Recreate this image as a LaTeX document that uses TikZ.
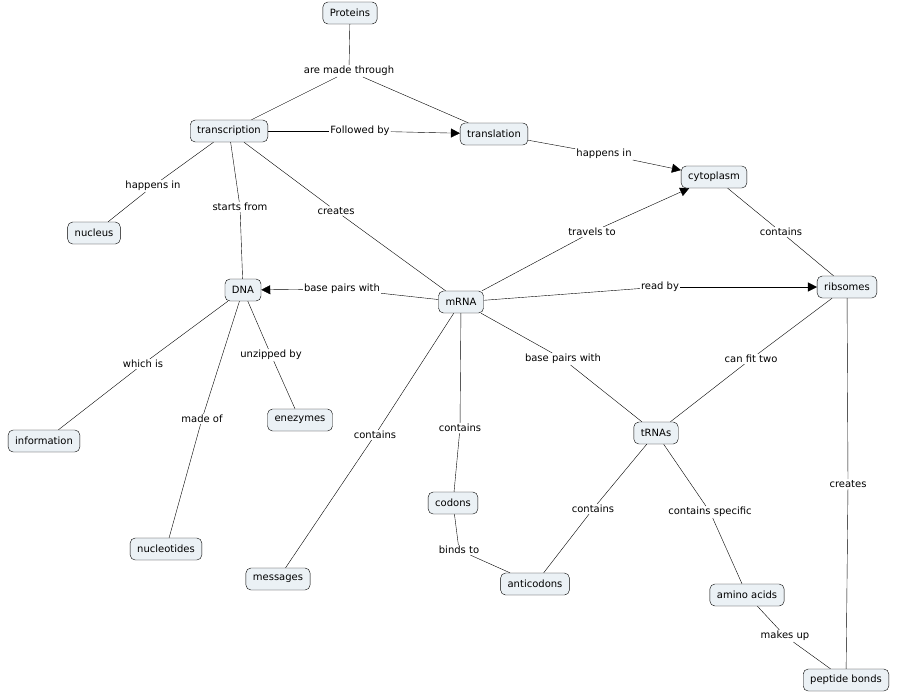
\documentclass[tikz,border=0pt]{standalone}
\usepackage{fontspec}
\setmainfont{DejaVu Sans}
\usetikzlibrary{arrows.meta}
\definecolor{conceptfill}{HTML}{EBF1F5}
\begin{document}
\begin{tikzpicture}[x=1pt,y=-1pt,
  concept/.style={draw,rounded corners=5pt,fill=conceptfill,font=\fontsize{10}{11}\selectfont,
    inner xsep=7pt,inner ysep=4pt,minimum height=22pt},
  link/.style={fill=white,font=\fontsize{10}{11}\selectfont,inner sep=1pt},
  arr/.style={-{Triangle[length=9pt,width=9pt]}}]
  \useasboundingbox (0,0) rectangle (901,697);

  \node[concept] (proteins) at (350,13) {Proteins};
  \node[concept] (transcription) at (229,131) {transcription};
  \node[concept] (translation) at (494,134) {translation};
  \node[concept] (cytoplasm) at (714,177) {cytoplasm};
  \node[concept] (nucleus) at (94,233) {nucleus};
  \node[concept] (dna) at (243,290) {DNA};
  \node[concept] (mrna) at (461,302) {mRNA};
  \node[concept] (ribsomes) at (847,287) {ribsomes};
  \node[concept] (information) at (44,441) {information};
  \node[concept] (enezymes) at (300,420) {enezymes};
  \node[concept] (trnas) at (656,433) {tRNAs};
  \node[concept] (codons) at (453,503) {codons};
  \node[concept] (nucleotides) at (166,549) {nucleotides};
  \node[concept] (messages) at (278,579) {messages};
  \node[concept] (anticodons) at (535,584) {anticodons};
  \node[concept] (aminoacids) at (747,595) {amino acids};
  \node[concept] (peptide) at (846,680) {peptide bonds};

  \node[link] (l1) at (349,71) {are made through};
  \node[link] (l2) at (360,131) {Followed by};
  \node[link] (l3) at (604,154) {happens in};
  \node[link] (l4) at (153,186) {happens in};
  \node[link] (l5) at (240,207) {starts from};
  \node[link] (l6) at (336,211) {creates};
  \node[link] (l7) at (342,289) {base pairs with};
  \node[link] (l8) at (592,232) {travels to};
  \node[link] (l9) at (660,287) {read by};
  \node[link] (l10) at (781,232) {contains};
  \node[link] (l11) at (751,359) {can fit two};
  \node[link] (l12) at (563,359) {base pairs with};
  \node[link] (l13) at (143,364) {which is};
  \node[link] (l14) at (271,355) {unzipped by};
  \node[link] (l15) at (202,419) {made of};
  \node[link] (l16) at (375,435) {contains};
  \node[link] (l17) at (460,428) {contains};
  \node[link] (l18) at (459,550) {binds to};
  \node[link] (l19) at (593,509) {contains};
  \node[link] (l20) at (710,512) {contains specific};
  \node[link] (l21) at (785,636) {makes up};
  \node[link] (l22) at (848,484) {creates};

  \path[draw]
    (proteins) edge (l1) (l1) edge (transcription) (l1) edge (translation)
    (transcription) edge (l2) (l2) edge[arr] (translation)
    (translation) edge (l3) (l3) edge[arr] (cytoplasm)
    (transcription) edge (l4) (l4) edge (nucleus)
    (transcription) edge (l5) (l5) edge (dna)
    (transcription) edge (l6) (l6) edge (mrna)
    (mrna) edge (l7) (l7) edge[arr] (dna)
    (mrna) edge (l8) (l8) edge[arr] (cytoplasm)
    (mrna) edge (l9) (l9) edge[arr] (ribsomes)
    (cytoplasm) edge (l10) (l10) edge (ribsomes)
    (ribsomes) edge (l11) (l11) edge (trnas)
    (mrna) edge (l12) (l12) edge (trnas)
    (dna) edge (l13) (l13) edge (information)
    (dna) edge (l14) (l14) edge (enezymes)
    (dna) edge (l15) (l15) edge (nucleotides)
    (mrna) edge (l16) (l16) edge (messages)
    (mrna) edge (l17) (l17) edge (codons)
    (codons) edge (l18) (l18) edge (anticodons)
    (trnas) edge (l19) (l19) edge (anticodons)
    (trnas) edge (l20) (l20) edge (aminoacids)
    (aminoacids) edge (l21) (l21) edge (peptide)
    (ribsomes) edge (l22) (l22) edge (peptide);
\end{tikzpicture}
\end{document}
